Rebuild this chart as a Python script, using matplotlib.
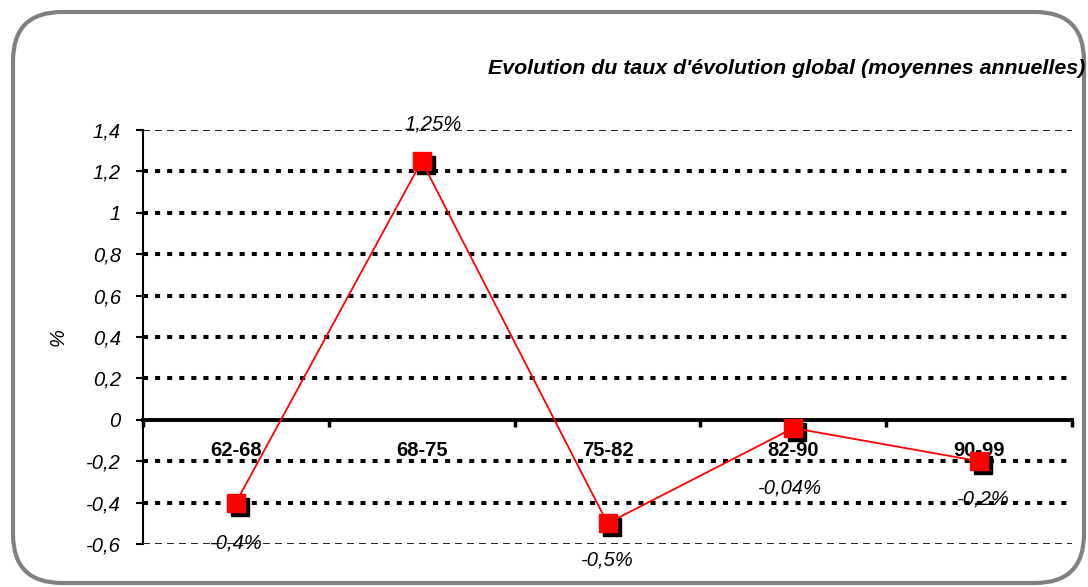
import numpy as np
import matplotlib
matplotlib.use("Agg")
import matplotlib.pyplot as plt
from matplotlib.patches import FancyBboxPatch
from matplotlib.transforms import offset_copy

plt.rcParams['font.family'] = ['Liberation Sans', 'DejaVu Sans']

# donnees
periodes = ["62-68", "68-75", "75-82", "82-90", "90-99"]
taux = [-0.4, 1.25, -0.5, -0.04, -0.2]
etiquettes = ["-0,4%", "1,25%", "-0,5%", "-0,04%", "-0,2%"]
yticks = [1.4, 1.2, 1.0, 0.8, 0.6, 0.4, 0.2, 0.0, -0.2, -0.4, -0.6]
ytick_labels = ["1,4", "1,2", "1", "0,8", "0,6", "0,4", "0,2", "0", "-0,2", "-0,4", "-0,6"]

# decalages des etiquettes (pixels)
decal = [(0, -40), (11, 37), (0, -37), (-3, -60), (4, -38)]

fig = plt.figure(figsize=(10.88, 5.87), dpi=100)

cadre = FancyBboxPatch((13 / 1088, 4 / 587), 1071 / 1088, 571 / 587,
                       boxstyle="round,pad=0,rounding_size=0.045",
                       transform=fig.transFigure, facecolor="white",
                       edgecolor="#808080", linewidth=3, mutation_aspect=1088 / 587,
                       zorder=-10)
fig.patches.append(cadre)

ax = fig.add_axes([143 / 1088, 1 - 544 / 587, (1072 - 143) / 1088, (544 - 130) / 587])
ax.set_facecolor("none")
ax.set_zorder(5)

x = np.arange(len(periodes))
ax.set_xlim(-0.5, len(periodes) - 0.5)
ax.set_ylim(-0.6, 1.4)

# grille
for y in yticks:
    if y == 0:
        continue
    if y in (1.4, -0.6):
        ax.axhline(y, color="black", lw=1.2, ls=(0, (4.2, 3)), zorder=1)
    else:
        ax.axhline(y, color="black", lw=2.9, ls=(0, (1.25, 1.75)), zorder=1)

ax.spines['top'].set_visible(False)
ax.spines['right'].set_visible(False)
ax.spines['left'].set_linewidth(1.5)
ax.spines['bottom'].set_position(('data', 0))
ax.spines['bottom'].set_linewidth(2.8)
ax.spines['bottom'].set_zorder(2)

ax.set_yticks(yticks)
ax.set_yticklabels(ytick_labels, fontstyle="italic", fontsize=14.5)
ax.tick_params(axis='y', direction='out', length=5, width=1.5, pad=11)

ax.set_xticks(np.arange(-0.5, len(periodes), 1.0))
ax.set_xticklabels([])
ax.tick_params(axis='x', which='major', direction='out', length=5, width=2.5)
ax.set_xticks(x, minor=True)
ax.set_xticklabels(periodes, minor=True, fontweight="bold", fontsize=14.5)
ax.tick_params(axis='x', which='minor', length=0, pad=15)

ax.set_ylabel("%", fontstyle="italic", fontsize=14.5, labelpad=13)

# serie
ombre = offset_copy(ax.transData, fig=fig, x=4, y=-4, units='dots')
ax.plot(x, taux, ls="none", marker="s", ms=13, color="black", transform=ombre, zorder=3)
ax.plot(x, taux, color="red", lw=1.3, marker="s", ms=13, mfc="red", mec="red", zorder=4)

for xi, yi, lab, (dx, dy) in zip(x, taux, etiquettes, decal):
    ax.annotate(lab, (xi, yi), xytext=(dx * 0.72, dy * 0.72), textcoords="offset points",
                ha="center", va="center", fontstyle="italic", fontsize=14.5, zorder=5)

fig.text(1085 / 1088, 1 - 68 / 587, "Evolution du taux d'évolution global (moyennes annuelles)",
         ha="right", va="center", fontsize=15.4, fontweight="bold", fontstyle="italic")

fig.savefig("out.png", dpi=100)
